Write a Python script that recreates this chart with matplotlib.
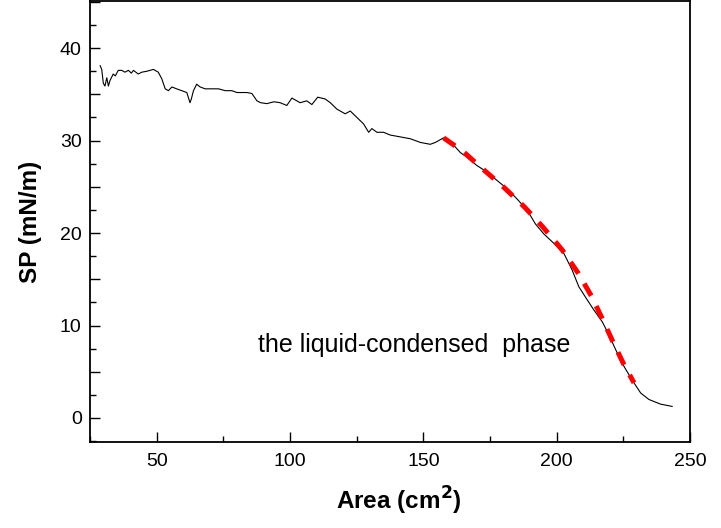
import matplotlib
matplotlib.use("Agg")
import matplotlib.pyplot as plt
from matplotlib.ticker import MultipleLocator, FuncFormatter

# isotherm (black line)
area = [28.8, 29.4, 30.0, 30.6, 31.3, 31.9, 32.5, 33.7, 34.5, 35.6, 36.9, 38.1, 39.4,
        40.5, 41.3, 43.1, 44.4, 46.3, 48.8, 50.6, 51.9, 53.2, 54.4, 55.7, 57.5, 59.4,
        61.3, 62.5, 63.0, 63.8, 65.0, 66.3, 68.2, 70.7, 73.2, 75.7, 78.2, 80.1, 83.8,
        85.7, 87.6, 89.0, 91.3, 94.0, 96.3, 98.8, 100.7, 103.8, 106.3, 108.2, 110.4,
        113.2, 115.1, 117.6, 120.7, 122.6, 125.1, 127.6, 129.5, 130.7, 132.6, 135.1,
        137.6, 141.4, 145.1, 148.9, 152.6, 154.5, 157.6, 161.4, 163.9, 166.4, 170.1,
        173.9, 177.6, 181.4, 185.1, 188.9, 192.0, 195.2, 198.9, 202.7, 205.8, 208.3,
        211.4, 213.9, 217.1, 219.6, 222.1, 225.2, 228.3, 231.5, 234.6, 238.9, 243.3]
sp = [38.1, 37.7, 36.2, 35.9, 36.8, 35.9, 36.5, 37.2, 37.0, 37.6, 37.6, 37.4, 37.6,
      37.3, 37.6, 37.2, 37.4, 37.5, 37.7, 37.4, 36.7, 35.6, 35.4, 35.8, 35.6, 35.4,
      35.2, 34.1, 34.5, 35.4, 36.1, 35.8, 35.6, 35.6, 35.6, 35.4, 35.4, 35.2, 35.2,
      35.1, 34.3, 34.1, 34.0, 34.2, 34.1, 33.8, 34.6, 34.1, 34.3, 33.9, 34.7,
      34.5, 34.1, 33.4, 32.9, 33.2, 32.5, 31.8, 30.9, 31.3, 30.9, 30.9,
      30.6, 30.4, 30.2, 29.8, 29.6, 29.8, 30.3, 29.5, 28.7, 28.2, 27.3,
      26.6, 25.7, 24.8, 23.7, 22.5, 21.0, 19.9, 18.9, 17.8, 16.0, 14.2,
      12.8, 11.7, 10.4, 9.0, 7.4, 5.6, 4.1, 2.7, 2.0, 1.5, 1.25]

# liquid-condensed phase fit (red dashed)
fit_area = [157.6, 165.0, 172.0, 180.0, 188.0, 195.0, 202.0, 208.0, 213.0, 217.0, 221.0, 225.0, 229.0]
fit_sp = [30.3, 28.8, 27.0, 25.0, 22.8, 20.6, 18.2, 15.7, 13.2, 10.8, 8.3, 5.9, 3.8]

plt.rcParams['font.family'] = ['Liberation Sans', 'DejaVu Sans']

fig = plt.figure(figsize=(7.21, 5.28), dpi=100)
ax = fig.add_axes([90/721, 1 - 442/528, 600/721, 441/528])

ax.plot(area, sp, color='black', lw=0.8)
ax.plot(fit_area, fit_sp, color='#ff0000', lw=3.6, linestyle=(0, (2.8, 2.3)))

ax.set_xlim(25, 250)
ax.set_ylim(-2.6, 45.1)

ax.xaxis.set_major_locator(MultipleLocator(50))
ax.xaxis.set_minor_locator(MultipleLocator(25))
ax.yaxis.set_major_locator(MultipleLocator(5))
ax.yaxis.set_minor_locator(MultipleLocator(2.5))
ax.yaxis.set_major_formatter(FuncFormatter(lambda v, p: f"{int(round(v))}" if abs(v % 10) < 1e-6 else ""))

ax.tick_params(which='both', direction='in', top=False, right=False, labelsize=14)
ax.tick_params(which='major', length=7, width=1)
ax.tick_params(which='minor', length=4.5, width=1)
ax.tick_params(axis='x', pad=8)
ax.tick_params(axis='y', pad=6)

for s in ax.spines.values():
    s.set_linewidth(1.3)

ax.set_xlabel('Area (cm$^\\mathbf{2}$)', fontsize=17.5, fontweight='bold', labelpad=11)
ax.xaxis.set_label_coords(0.515, -0.097)
ax.set_ylabel('SP (mN/m)', fontsize=17.5, fontweight='bold', labelpad=13)

ax.text(88.1, 7.9, 'the liquid-condensed  phase', fontsize=18, va='center', ha='left')

fig.savefig('out.png', dpi=100)
